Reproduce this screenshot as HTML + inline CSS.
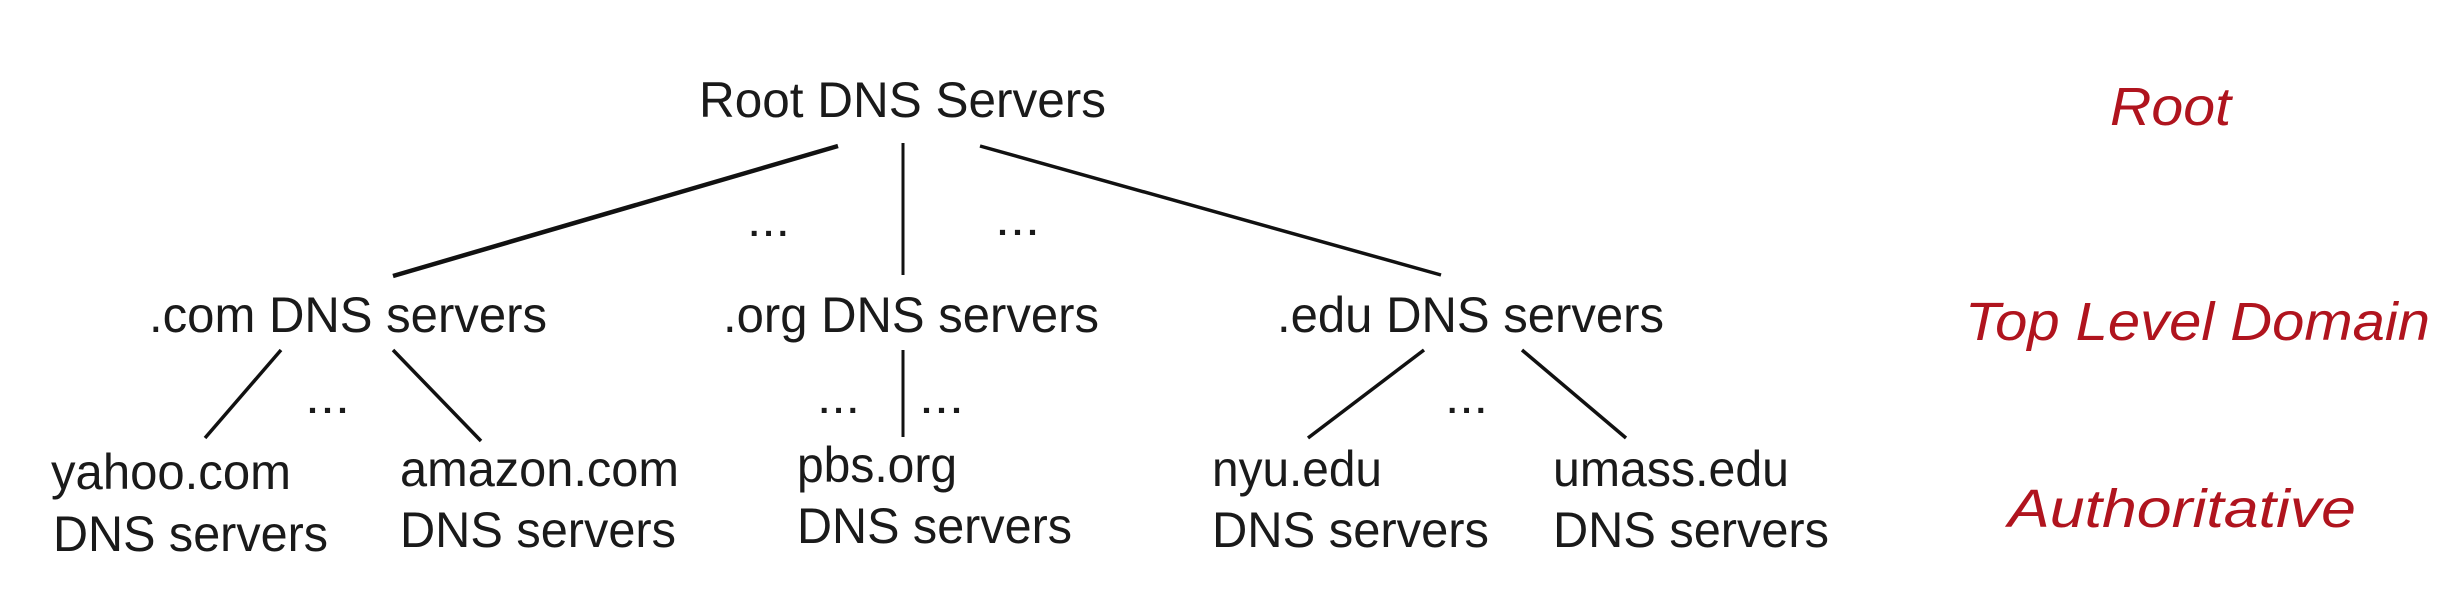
<!DOCTYPE html>
<html><head><meta charset="utf-8"><style>
html,body{margin:0;padding:0;background:#fff;}
svg{display:block;}
text{font-family:"Liberation Sans",Arial,sans-serif;fill:#1a1a1a;}
.r{fill:#b0141e;font-style:italic;}
</style></head><body>
<svg width="2452" height="612" viewBox="0 0 2452 612" xmlns="http://www.w3.org/2000/svg">
<rect width="2452" height="612" fill="#fff"/>
<g stroke="#111" stroke-linecap="butt">
<line x1="838" y1="146" x2="393" y2="276" stroke-width="4.5"/>
<line x1="903" y1="143" x2="903" y2="275" stroke-width="3"/>
<line x1="980" y1="146" x2="1441" y2="275" stroke-width="3.5"/>
<line x1="281" y1="350" x2="205" y2="438" stroke-width="3.5"/>
<line x1="393" y1="350" x2="481" y2="441" stroke-width="3.5"/>
<line x1="903" y1="350" x2="903" y2="437" stroke-width="3"/>
<line x1="1424" y1="350" x2="1308" y2="438" stroke-width="3.5"/>
<line x1="1522" y1="350" x2="1626" y2="438" stroke-width="3.5"/>
</g>
<g font-size="50">
<text x="699" y="117" textLength="407" lengthAdjust="spacingAndGlyphs">Root DNS Servers</text>
<text x="149" y="332" textLength="398" lengthAdjust="spacingAndGlyphs">.com DNS servers</text>
<text x="723" y="332" textLength="376" lengthAdjust="spacingAndGlyphs">.org DNS servers</text>
<text x="1277" y="332" textLength="387" lengthAdjust="spacingAndGlyphs">.edu DNS servers</text>
<text x="51" y="489" textLength="240" lengthAdjust="spacingAndGlyphs">yahoo.com</text>
<text x="53" y="551" textLength="275" lengthAdjust="spacingAndGlyphs">DNS servers</text>
<text x="400" y="486" textLength="279" lengthAdjust="spacingAndGlyphs">amazon.com</text>
<text x="400" y="547" textLength="276" lengthAdjust="spacingAndGlyphs">DNS servers</text>
<text x="797" y="482" textLength="160" lengthAdjust="spacingAndGlyphs">pbs.org</text>
<text x="797" y="543" textLength="275" lengthAdjust="spacingAndGlyphs">DNS servers</text>
<text x="1212" y="486" textLength="170" lengthAdjust="spacingAndGlyphs">nyu.edu</text>
<text x="1212" y="547" textLength="277" lengthAdjust="spacingAndGlyphs">DNS servers</text>
<text x="1553" y="486" textLength="236" lengthAdjust="spacingAndGlyphs">umass.edu</text>
<text x="1553" y="547" textLength="276" lengthAdjust="spacingAndGlyphs">DNS servers</text>
</g>
<g font-size="48">
<text x="747" y="236" textLength="43" lengthAdjust="spacingAndGlyphs">...</text>
<text x="995" y="235" textLength="45" lengthAdjust="spacingAndGlyphs">...</text>
<text x="305" y="413" textLength="45" lengthAdjust="spacingAndGlyphs">...</text>
<text x="817" y="413" textLength="43" lengthAdjust="spacingAndGlyphs">...</text>
<text x="919" y="413" textLength="45" lengthAdjust="spacingAndGlyphs">...</text>
<text x="1445" y="413" textLength="43" lengthAdjust="spacingAndGlyphs">...</text>
</g>
<g font-size="54" class="r">
<text class="r" x="2110" y="125" textLength="121" lengthAdjust="spacingAndGlyphs">Root</text>
<text class="r" x="1965" y="340" textLength="465" lengthAdjust="spacingAndGlyphs">Top Level Domain</text>
<text class="r" x="2008" y="527" textLength="348" lengthAdjust="spacingAndGlyphs">Authoritative</text>
</g>
</svg>
</body></html>
